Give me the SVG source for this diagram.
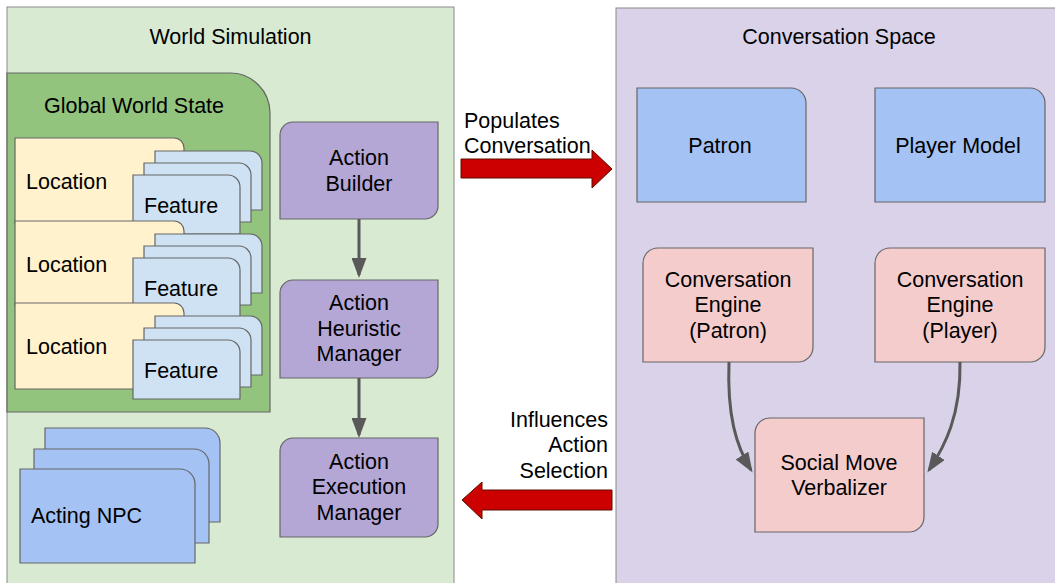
<svg xmlns="http://www.w3.org/2000/svg" width="1055" height="583" viewBox="0 0 1055 583">
  <style>
    text { font-family: "Liberation Sans", Arial, sans-serif; font-size: 21.5px; fill: #000; }
    .mid { text-anchor: middle; }
    .end { text-anchor: end; }
    .panel { stroke: #8a8a8a; stroke-width: 1; }
    .box { stroke: #666; stroke-width: 1.2; }
    .state { fill: #93c47d; }
    .loc { fill: #fff2cc; }
    .feat { fill: #cfe2f3; }
    .blue { fill: #a4c2f4; }
    .purple { fill: #b4a7d6; }
    .pink { fill: #f4cccc; }
    .flow { fill: none; stroke: #595959; stroke-width: 3; }
    .big { fill: #cc0000; stroke: #5b0f00; stroke-width: 1; }
  </style>
  <defs>
    <marker id="head" markerUnits="userSpaceOnUse" markerWidth="20" markerHeight="15" refX="17" refY="7.5" orient="auto">
      <path d="M0,0 L20,7.5 L0,15 Z" fill="#595959"/>
    </marker>
    <!-- reusable shapes -->
    <path id="feature" d="M0,0 H95 A12,12 0 0 1 107,12 V59 H0 Z"/>
    <path id="npc" d="M0,0 H160 A15,15 0 0 1 175,15 V94 H0 Z"/>
  </defs>

  <rect width="1055" height="583" fill="#fff"/>

  <!-- panels -->
  <g id="world-simulation">
    <rect class="panel" x="7" y="7" width="447" height="590" fill="#d9ead3"/>
    <text class="mid" x="230.5" y="44">World Simulation</text>
  </g>
  <g id="conversation-space">
    <rect class="panel" x="616" y="8" width="450" height="590" fill="#d9d2e9"/>
    <text class="mid" x="839" y="44">Conversation Space</text>
  </g>

  <!-- world state with locations and features -->
  <g id="global-world-state">
    <path class="box state" d="M7,73 H230 A40,40 0 0 1 270,113 V412 H7 Z"/>
    <text x="44" y="113">Global World State</text>
  </g>

  <g id="location-1">
    <path class="box loc" d="M15,138 H174 A10,10 0 0 1 184,148 V224 H15 Z"/>
    <text x="26" y="189">Location</text>
    <use href="#feature" class="box feat" x="155" y="151"/>
    <use href="#feature" class="box feat" x="144" y="163"/>
    <use href="#feature" class="box feat" x="133" y="175"/>
    <text x="144" y="213">Feature</text>
  </g>
  <g id="location-2">
    <path class="box loc" d="M15,221 H174 A10,10 0 0 1 184,231 V306 H15 Z"/>
    <text x="26" y="272">Location</text>
    <use href="#feature" class="box feat" x="155" y="234"/>
    <use href="#feature" class="box feat" x="144" y="246"/>
    <use href="#feature" class="box feat" x="133" y="258"/>
    <text x="144" y="296">Feature</text>
  </g>
  <g id="location-3">
    <path class="box loc" d="M15,303 H174 A10,10 0 0 1 184,313 V389 H15 Z"/>
    <text x="26" y="354">Location</text>
    <use href="#feature" class="box feat" x="155" y="316"/>
    <use href="#feature" class="box feat" x="144" y="328"/>
    <use href="#feature" class="box feat" x="133" y="340"/>
    <text x="144" y="378">Feature</text>
  </g>

  <g id="acting-npc">
    <use href="#npc" class="box blue" x="45" y="428"/>
    <use href="#npc" class="box blue" x="34" y="449"/>
    <use href="#npc" class="box blue" x="20" y="469"/>
    <text x="31" y="523">Acting NPC</text>
  </g>

  <!-- action pipeline -->
  <g id="action-builder">
    <path class="box purple" d="M293,122 H438 V206 A13,13 0 0 1 425,219 H280 V135 A13,13 0 0 1 293,122 Z"/>
    <text class="mid" x="359" y="165">Action</text>
    <text class="mid" x="359" y="191">Builder</text>
  </g>
  <g id="action-heuristic-manager">
    <path class="box purple" d="M293,280 H438 V365 A13,13 0 0 1 425,378 H280 V293 A13,13 0 0 1 293,280 Z"/>
    <text class="mid" x="359" y="310">Action</text>
    <text class="mid" x="359" y="336">Heuristic</text>
    <text class="mid" x="359" y="361">Manager</text>
  </g>
  <g id="action-execution-manager">
    <path class="box purple" d="M293,438 H438 V524 A13,13 0 0 1 425,537 H280 V451 A13,13 0 0 1 293,438 Z"/>
    <text class="mid" x="359" y="469">Action</text>
    <text class="mid" x="359" y="494">Execution</text>
    <text class="mid" x="359" y="520">Manager</text>
  </g>

  <!-- conversation space nodes -->
  <g id="patron">
    <path class="box blue" d="M637,88 H791 A15,15 0 0 1 806,103 V202 H637 Z"/>
    <text class="mid" x="720" y="153">Patron</text>
  </g>
  <g id="player-model">
    <path class="box blue" d="M875,88 H1030 A15,15 0 0 1 1045,103 V202 H875 Z"/>
    <text class="mid" x="958" y="153">Player Model</text>
  </g>
  <g id="engine-patron">
    <path class="box pink" d="M658,248 H813 V347 A15,15 0 0 1 798,362 H643 V263 A15,15 0 0 1 658,248 Z"/>
    <text class="mid" x="728" y="287">Conversation</text>
    <text class="mid" x="728" y="312">Engine</text>
    <text class="mid" x="728" y="338">(Patron)</text>
  </g>
  <g id="engine-player">
    <path class="box pink" d="M890,248 H1045 V347 A15,15 0 0 1 1030,362 H875 V263 A15,15 0 0 1 890,248 Z"/>
    <text class="mid" x="960" y="287">Conversation</text>
    <text class="mid" x="960" y="312">Engine</text>
    <text class="mid" x="960" y="338">(Player)</text>
  </g>
  <g id="social-move-verbalizer">
    <path class="box pink" d="M770,418 H924 V517 A15,15 0 0 1 909,532 H755 V433 A15,15 0 0 1 770,418 Z"/>
    <text class="mid" x="839" y="470">Social Move</text>
    <text class="mid" x="839" y="495">Verbalizer</text>
  </g>

  <!-- connectors -->
  <g id="connectors">
    <path class="flow" d="M359,219 V275" marker-end="url(#head)"/>
    <path class="flow" d="M359,378 V435" marker-end="url(#head)"/>
    <path class="flow" d="M729,362 C727,415 736,446 751,470" marker-end="url(#head)"/>
    <path class="flow" d="M960,362 C961,415 945,446 929,470" marker-end="url(#head)"/>

    <polygon class="big" points="461,159 592,159 592,150 612,169 592,188 592,178 461,178"/>
    <text x="464" y="128">Populates</text>
    <text x="464" y="153">Conversation</text>

    <polygon class="big" points="612,490 482,490 482,482 462,500 482,519 482,510 612,510"/>
    <text class="end" x="608" y="427">Influences</text>
    <text class="end" x="608" y="452">Action</text>
    <text class="end" x="608" y="478">Selection</text>
  </g>
</svg>
